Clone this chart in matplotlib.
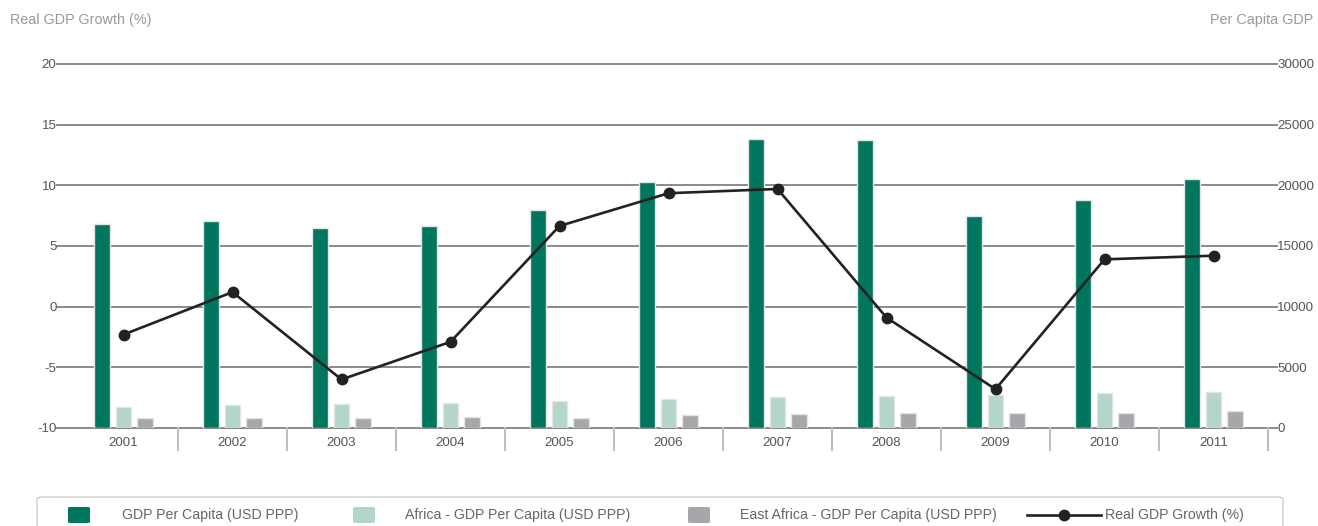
import matplotlib
matplotlib.use("Agg")
import matplotlib.pyplot as plt
from matplotlib.patches import FancyBboxPatch
from matplotlib.lines import Line2D
import numpy as np

plt.rcParams['font.family'] = ['Liberation Sans', 'DejaVu Sans']

years = ['2001', '2002', '2003', '2004', '2005', '2006', '2007', '2008', '2009', '2010', '2011']
gdp_pc = [16800, 17100, 16450, 16650, 18000, 20300, 23850, 23750, 17500, 18800, 20500]
africa_pc = [1760, 1870, 1950, 2090, 2220, 2420, 2530, 2610, 2720, 2860, 2940]
east_africa_pc = [800, 820, 820, 880, 860, 1040, 1130, 1210, 1210, 1220, 1430]
real_growth = [-2.3, 1.2, -6.0, -2.9, 6.65, 9.35, 9.7, -0.9, -6.8, 3.9, 4.2]

left_ticks = [-10, -5, 0, 5, 10, 15, 20]
right_ticks = [0, 5000, 10000, 15000, 20000, 25000, 30000]

c_green = '#00765e'
c_africa = '#b4d5c9'
c_east = '#a6a7aa'
c_grid = '#8a8a8a'
c_line = '#222222'
tick_fs = 9.6

W, H = 1318, 526
fig = plt.figure(figsize=(W / 100, H / 100), dpi=100)
L, R, T, B = 69, 1268, 64, 428
ax = fig.add_axes([L / W, 1 - B / H, (R - L) / W, (B - T) / H])
ax2 = ax.twinx()

x = np.arange(len(years))
bw = 0.145
off = 0.2
bar_kw = dict(width=bw, edgecolor='#e4e4e4', linewidth=1.0, zorder=3)
ax.bar(x - off, gdp_pc, color=c_green, **bar_kw)
ax.bar(x, africa_pc, color=c_africa, **bar_kw)
ax.bar(x + off, east_africa_pc, color=c_east, **bar_kw)

ax.set_xlim(-0.5, len(years) - 0.5)
ax.set_ylim(0, 30000)
ax2.set_ylim(-10, 20)

# gridlines extending slightly beyond plot area
ext_l = (57 - L) / (R - L)
ext_r = (1277 - L) / (R - L)
for v in right_ticks:
    ax.axhline(v, xmin=ext_l, xmax=ext_r, color=c_grid, lw=1.4, zorder=1, clip_on=False)

# category dividers
for i in range(len(years)):
    ax.plot([i + 0.5, i + 0.5], [0, -22 / (B - T)], color='#bdbdbd', lw=1.5,
            transform=ax.get_xaxis_transform(), clip_on=False, zorder=1)

for s in ax.spines.values():
    s.set_visible(False)
for s in ax2.spines.values():
    s.set_visible(False)

# right axis ticks (bars)
ax.yaxis.tick_right()
ax.set_yticks(right_ticks)
ax.set_yticklabels([str(v) for v in right_ticks])
ax.tick_params(axis='y', length=0, pad=6.5, labelsize=tick_fs, labelcolor='#555555')
ax.set_xticks(x)
ax.set_xticklabels(years)
ax.tick_params(axis='x', length=0, pad=6.5, labelsize=tick_fs, labelcolor='#555555')

# left axis (line)
ax2.yaxis.tick_left()
ax2.set_yticks(left_ticks)
ax2.set_yticklabels([str(v) for v in left_ticks])
ax2.tick_params(axis='y', length=0, pad=9, labelsize=tick_fs, labelcolor='#555555')
ax2.plot(x, real_growth, color=c_line, lw=1.9, marker='o', markersize=7.5, zorder=5)

# axis titles
fig.text(10 / W, 1 - 20 / H, 'Real GDP Growth (%)', ha='left', va='center',
         fontsize=10.4, color='#999999')
fig.text(1313 / W, 1 - 20 / H, 'Per Capita GDP', ha='right', va='center',
         fontsize=10.4, color='#999999')

# legend (manual, figure pixel coords)
def fx(px):
    return px / W

def fy(py):
    return 1 - py / H

box = FancyBboxPatch((fx(37), fy(540)), fx(1283) - fx(37), fy(497) - fy(540),
                     boxstyle='round,pad=0,rounding_size=0.004',
                     transform=fig.transFigure, facecolor='white',
                     edgecolor='#cccccc', lw=1.0, clip_on=False)
fig.patches.append(box)

legend_items = [
    ('GDP Per Capita (USD PPP)', c_green, 68, 122),
    ('Africa - GDP Per Capita (USD PPP)', c_africa, 353, 405),
    ('East Africa - GDP Per Capita (USD PPP)', c_east, 688, 740),
]
ly = 515
legend_fs = 10.2
for label, col, sx, tx in legend_items:
    sw = FancyBboxPatch((fx(sx), fy(523)), fx(22), 16 / H,
                        boxstyle='round,pad=0,rounding_size=0.002',
                        transform=fig.transFigure, facecolor=col,
                        edgecolor='none', clip_on=False)
    fig.patches.append(sw)
    fig.text(fx(tx), fy(ly), label, ha='left', va='center', fontsize=legend_fs, color='#666666')

fig.lines.append(Line2D([fx(1027), fx(1101)], [fy(ly), fy(ly)], transform=fig.transFigure,
                        color=c_line, lw=1.9))
fig.lines.append(Line2D([fx(1064)], [fy(ly)], transform=fig.transFigure,
                        color=c_line, marker='o', markersize=7.5, lw=0))
fig.text(fx(1105), fy(ly), 'Real GDP Growth (%)', ha='left', va='center',
         fontsize=legend_fs, color='#666666')

fig.savefig('out.png', dpi=100)
